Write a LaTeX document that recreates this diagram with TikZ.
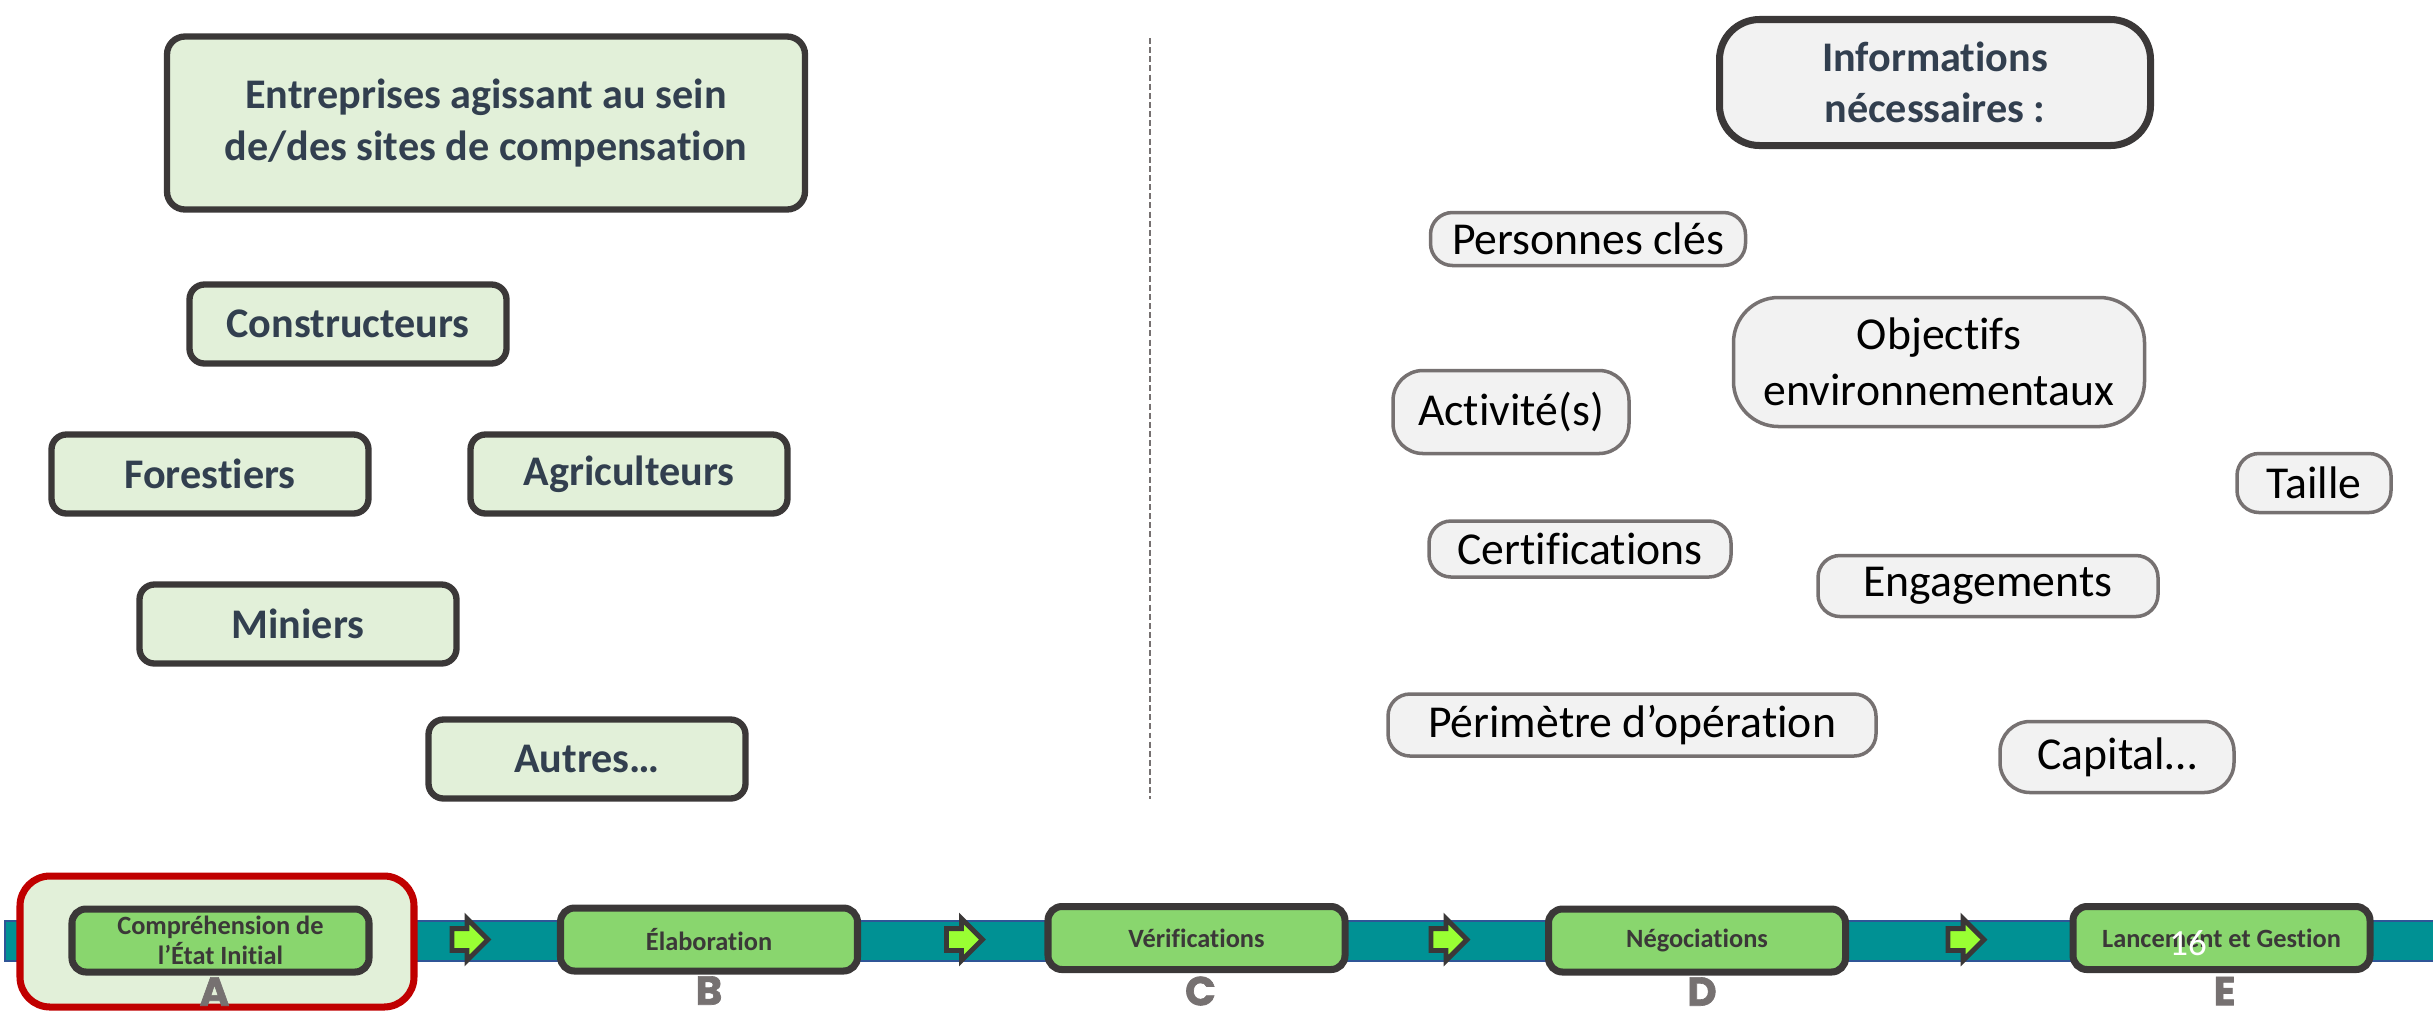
\documentclass[tikz,border=0pt]{standalone}
\usepackage{fontspec}
\setmainfont{Carlito}[Ligatures=NoCommon]
\newfontfamily\letterfont{Poppins}[BoldFeatures={FakeBold=1.6}]
\usetikzlibrary{shapes.arrows}

\definecolor{boxgreen}{RGB}{226,240,217}
\definecolor{darkline}{RGB}{59,56,56}
\definecolor{slatetext}{RGB}{50,63,79}
\definecolor{tagfill}{RGB}{242,242,242}
\definecolor{midgray}{RGB}{118,113,113}
\definecolor{stagegreen}{RGB}{137,214,110}
\definecolor{bandteal}{RGB}{0,145,148}
\definecolor{bandblue}{RGB}{47,85,151}
\definecolor{arrowgreen}{RGB}{153,255,51}
\definecolor{redframe}{RGB}{192,0,0}

\tikzstyle{actorhead} = [rectangle, rounded corners=0.18cm, minimum width=6.38cm, minimum height=1.73cm, inner sep=0pt, align=center, draw=darkline, line width=1.8pt, fill=boxgreen, text=slatetext, font=\fontsize{12}{15}\selectfont\bfseries]
\tikzstyle{actor} = [rectangle, rounded corners=0.15cm, minimum width=3.17cm, minimum height=0.79cm, inner sep=0pt, align=center, draw=darkline, line width=1.8pt, fill=boxgreen, text=slatetext, font=\fontsize{12}{15}\selectfont\bfseries]
\tikzstyle{infohead} = [rectangle, rounded corners=0.4cm, minimum width=4.31cm, minimum height=1.26cm, inner sep=0pt, align=center, draw=darkline, line width=2pt, fill=tagfill, text=slatetext, font=\fontsize{12}{14.5}\selectfont\bfseries]
\tikzstyle{infotag} = [rectangle, rounded corners=0.22cm, inner sep=0pt, align=center, draw=midgray, line width=1pt, fill=tagfill, text=black, font=\fontsize{13}{16}\selectfont]
\tikzstyle{divider} = [midgray, line width=0.7pt, dash pattern=on 1.7pt off 0.9pt]
\tikzstyle{band} = [fill=bandteal, draw=bandblue, line width=0.7pt]
\tikzstyle{focus} = [rectangle, rounded corners=0.3cm, minimum width=3.94cm, minimum height=1.31cm, inner sep=0pt, draw=redframe, line width=2pt, fill=boxgreen]
\tikzstyle{stage} = [rectangle, rounded corners=0.14cm, minimum width=2.97cm, minimum height=0.63cm, inner sep=0pt, align=center, draw=darkline, line width=2pt, fill=stagegreen, text=darkline, font=\fontsize{7.5}{8.5}\selectfont\bfseries]
\tikzstyle{stagearrow} = [single arrow, single arrow head extend=0.1cm, minimum height=0.36cm, inner xsep=0pt, inner ysep=0.085cm, draw=darkline, line width=1.4pt, fill=arrowgreen]
\tikzstyle{stepletter} = [inner sep=0pt, text=midgray, font=\letterfont\bfseries\fontsize{11.5}{12}\selectfont]
\tikzstyle{pagenum} = [inner sep=0pt, text=white, font=\fontsize{10.5}{12}\selectfont]

\begin{document}
\begin{tikzpicture}[node distance=1.5cm]
	\useasboundingbox (0,0) rectangle (24.33,-10.12);

	% acteurs
	\node (a0) [actorhead] at (4.86,-1.23) {Entreprises agissant au sein\\de/des sites de compensation};
	\node (a1) [actor, below of=a0, xshift=-1.38cm, yshift=-0.51cm] {Constructeurs};
	\node (a2) [actor, below of=a1, xshift=-1.38cm] {Forestiers};
	\node (a3) [actor, right of=a2, xshift=2.69cm] {Agriculteurs};
	\node (a4) [actor, below of=a2, xshift=0.88cm] {Miniers};
	\node (a5) [actor, below of=a4, xshift=2.89cm, yshift=0.15cm] {Autres…};

	% informations
	\node (b0) [infohead, right of=a0, xshift=12.99cm, yshift=0.405cm] {Informations\\nécessaires :};
	\node (b1) [infotag, below of=b0, xshift=0.04cm, yshift=-1.295cm, minimum width=4.11cm, minimum height=1.29cm, rounded corners=0.45cm] {Objectifs\\environnementaux};
	\node (b2) [infotag, below of=b0, xshift=-3.47cm, yshift=-0.065cm, minimum width=3.15cm, minimum height=0.53cm] {Personnes clés};
	\node (b3) [infotag, below of=b2, xshift=-0.77cm, yshift=-0.23cm, minimum width=2.36cm, minimum height=0.83cm, rounded corners=0.3cm] {Activité(s)};
	\node (b4) [infotag, right of=b1, xshift=2.25cm, yshift=-1.21cm, minimum width=1.54cm, minimum height=0.59cm] {Taille};
	\node (b5) [infotag, below of=b3, xshift=0.69cm, yshift=0.13cm, minimum width=3.02cm, minimum height=0.56cm] {Certifications};
	\node (b6) [infotag, below of=b1, xshift=0.49cm, yshift=-0.74cm, minimum width=3.40cm, minimum height=0.61cm] {Engagements};
	\node (b7) [infotag, below of=b5, xshift=0.52cm, yshift=-0.26cm, minimum width=4.88cm, minimum height=0.62cm] {Périmètre d’opération};
	\node (b8) [infotag, below of=b6, xshift=1.29cm, yshift=-0.21cm, minimum width=2.34cm, minimum height=0.71cm, rounded corners=0.3cm] {Capital…};

	\coordinate (c0) at (11.50,-0.38);
	\coordinate (c1) at (11.50,-7.99);
	\draw [divider] (c0) -- (c1);

	% frise
	\draw [band] (0.05,-9.21) rectangle (24.45,-9.61);
	\node (f0) [focus] at (2.17,-9.415) {};
	\node (s1) [stage] at (2.205,-9.405) {Compréhension de\\l’État Initial};
	\node (r1) [stagearrow, right of=s1, xshift=0.94cm, yshift=0.01cm] {};
	\node (s2) [stage, right of=r1, xshift=0.945cm] {Élaboration};
	\node (r2) [stagearrow, right of=s2, xshift=1.0cm] {};
	\node (s3) [stage, right of=r2, xshift=0.875cm, yshift=0.015cm] {Vérifications};
	\node (r3) [stagearrow, right of=s3, xshift=0.97cm, yshift=-0.015cm] {};
	\node (s4) [stage, right of=r3, xshift=1.035cm, yshift=-0.01cm] {Négociations};
	\node (r4) [stagearrow, right of=s4, xshift=1.135cm, yshift=0.01cm] {};
	\node (s5) [stage, right of=r4, xshift=1.11cm, yshift=0.015cm] {Lancement et Gestion};

	\node (lA) [stepletter, below of=s1, xshift=-0.06cm, yshift=0.99cm] {A};
	\node (lB) [stepletter, below of=s2, yshift=0.99cm] {B};
	\node (lC) [stepletter, below of=s3, xshift=0.04cm, yshift=0.97cm] {C};
	\node (lD) [stepletter, below of=s4, xshift=0.05cm, yshift=0.99cm] {D};
	\node (lE) [stepletter, below of=s5, xshift=0.03cm, yshift=0.97cm] {E};

	\node (p0) [pagenum] at (21.88,-9.435) {16};
\end{tikzpicture}
\end{document}
